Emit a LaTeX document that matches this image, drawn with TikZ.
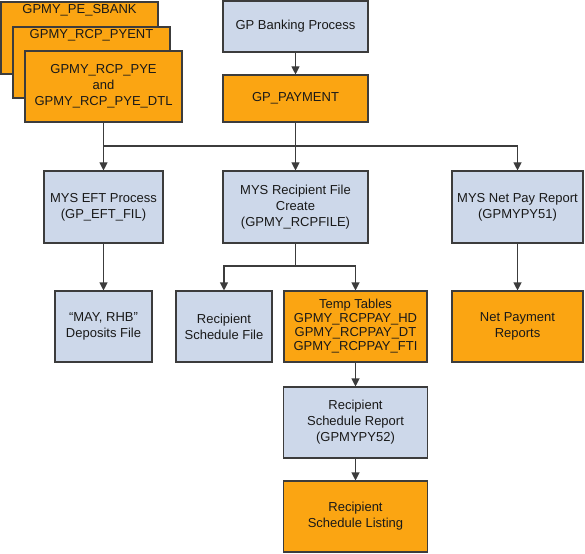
\documentclass[tikz,border=0pt]{standalone}
\usepackage{fontspec}
\setmainfont{Liberation Sans}
\usetikzlibrary{arrows.meta}
\definecolor{orbox}{RGB}{251,165,18}
\definecolor{blbox}{RGB}{205,216,234}
\definecolor{edge}{RGB}{60,60,60}
\definecolor{txt}{RGB}{25,25,25}
\tikzset{
  box/.style={draw=edge, line width=1.1pt, rectangle, inner sep=0pt, align=center,
    text=txt, font=\fontsize{13}{16}\selectfont},
  obox/.style={box, fill=orbox},
  bbox/.style={box, fill=blbox},
  conn/.style={draw=edge, line width=1.1pt},
  arr/.style={conn, -{Triangle[length=8pt,width=8pt]}},
}
\begin{document}
\begin{tikzpicture}[x=1pt,y=-1pt]
\useasboundingbox (0,0) rectangle (585,553);
% stacked boxes
\node[obox, minimum width=157, minimum height=72,
  label={[anchor=north, inner sep=0pt, yshift=-3pt, text=txt, font=\fontsize{13}{16}\selectfont]north:GPMY\_PE\_SBANK}]
  (sbank) at (79.5,38) {};
\node[obox, minimum width=157, minimum height=71,
  label={[anchor=north, inner sep=0pt, yshift=-3pt, text=txt, font=\fontsize{13}{16}\selectfont]north:GPMY\_RCP\_PYENT}]
  (pyent) at (91.5,62.5) {};
\node[obox, minimum width=157, minimum height=71] (pye) at (103.5,86.5)
  {GPMY\_RCP\_PYE\\and\\GPMY\_RCP\_PYE\_DTL};
% main column
\node[bbox, minimum width=145, minimum height=51] (gpb) at (295.5,26.5) {GP Banking Process};
\node[obox, minimum width=145, minimum height=47] (gpp) at (295.5,98.5) {GP\_PAYMENT};
\node[bbox, minimum width=119, minimum height=72] (eft) at (103.5,207) {MYS EFT Process\\(GP\_EFT\_FIL)};
\node[bbox, minimum width=145, minimum height=72] (rfc) at (295.5,207) {MYS Recipient File\\Create\\(GPMY\_RCPFILE)};
\node[bbox, minimum width=131, minimum height=72] (net) at (517.5,207) {MYS Net Pay Report\\(GPMYPY51)};
\node[bbox, minimum width=97, minimum height=71] (dep) at (103.5,326.5) {“MAY, RHB”\\Deposits File};
\node[bbox, minimum width=96, minimum height=71] (rsf) at (224,326.5) {Recipient\\Schedule File};
\node[obox, minimum width=143, minimum height=71, font=\fontsize{13}{14}\selectfont] (tmp) at (355.5,326.5)
  {Temp Tables\\GPMY\_RCPPAY\_HD\\GPMY\_RCPPAY\_DT\\GPMY\_RCPPAY\_FTI};
\node[obox, minimum width=131, minimum height=71] (npr) at (517.5,326.5) {Net Payment\\Reports};
\node[bbox, minimum width=144, minimum height=71] (rsr) at (355.5,422.5) {Recipient\\Schedule Report\\(GPMYPY52)};
\node[obox, minimum width=144, minimum height=71] (rsl) at (355.5,516.5) {Recipient\\Schedule Listing};
% junctions
\coordinate (j) at (295.5,146);
\coordinate (k) at (295.5,266);
% connectors
\draw[arr] (gpb) -- (gpp);
\draw[arr] (pye) -- (eft);
\draw[arr] (gpp) -- (rfc);
\draw[conn] (eft.north |- j) -- (j);
\draw[arr] (j) -| (net.north);
\draw[arr] (eft) -- (dep);
\draw[arr] (net) -- (npr);
\draw[conn] (rfc.south) -- (k);
\draw[arr] (k) -| (rsf.north);
\draw[arr] (k) -| (tmp.north);
\draw[arr] (tmp) -- (rsr);
\draw[arr] (rsr) -- (rsl);
\end{tikzpicture}
\end{document}
